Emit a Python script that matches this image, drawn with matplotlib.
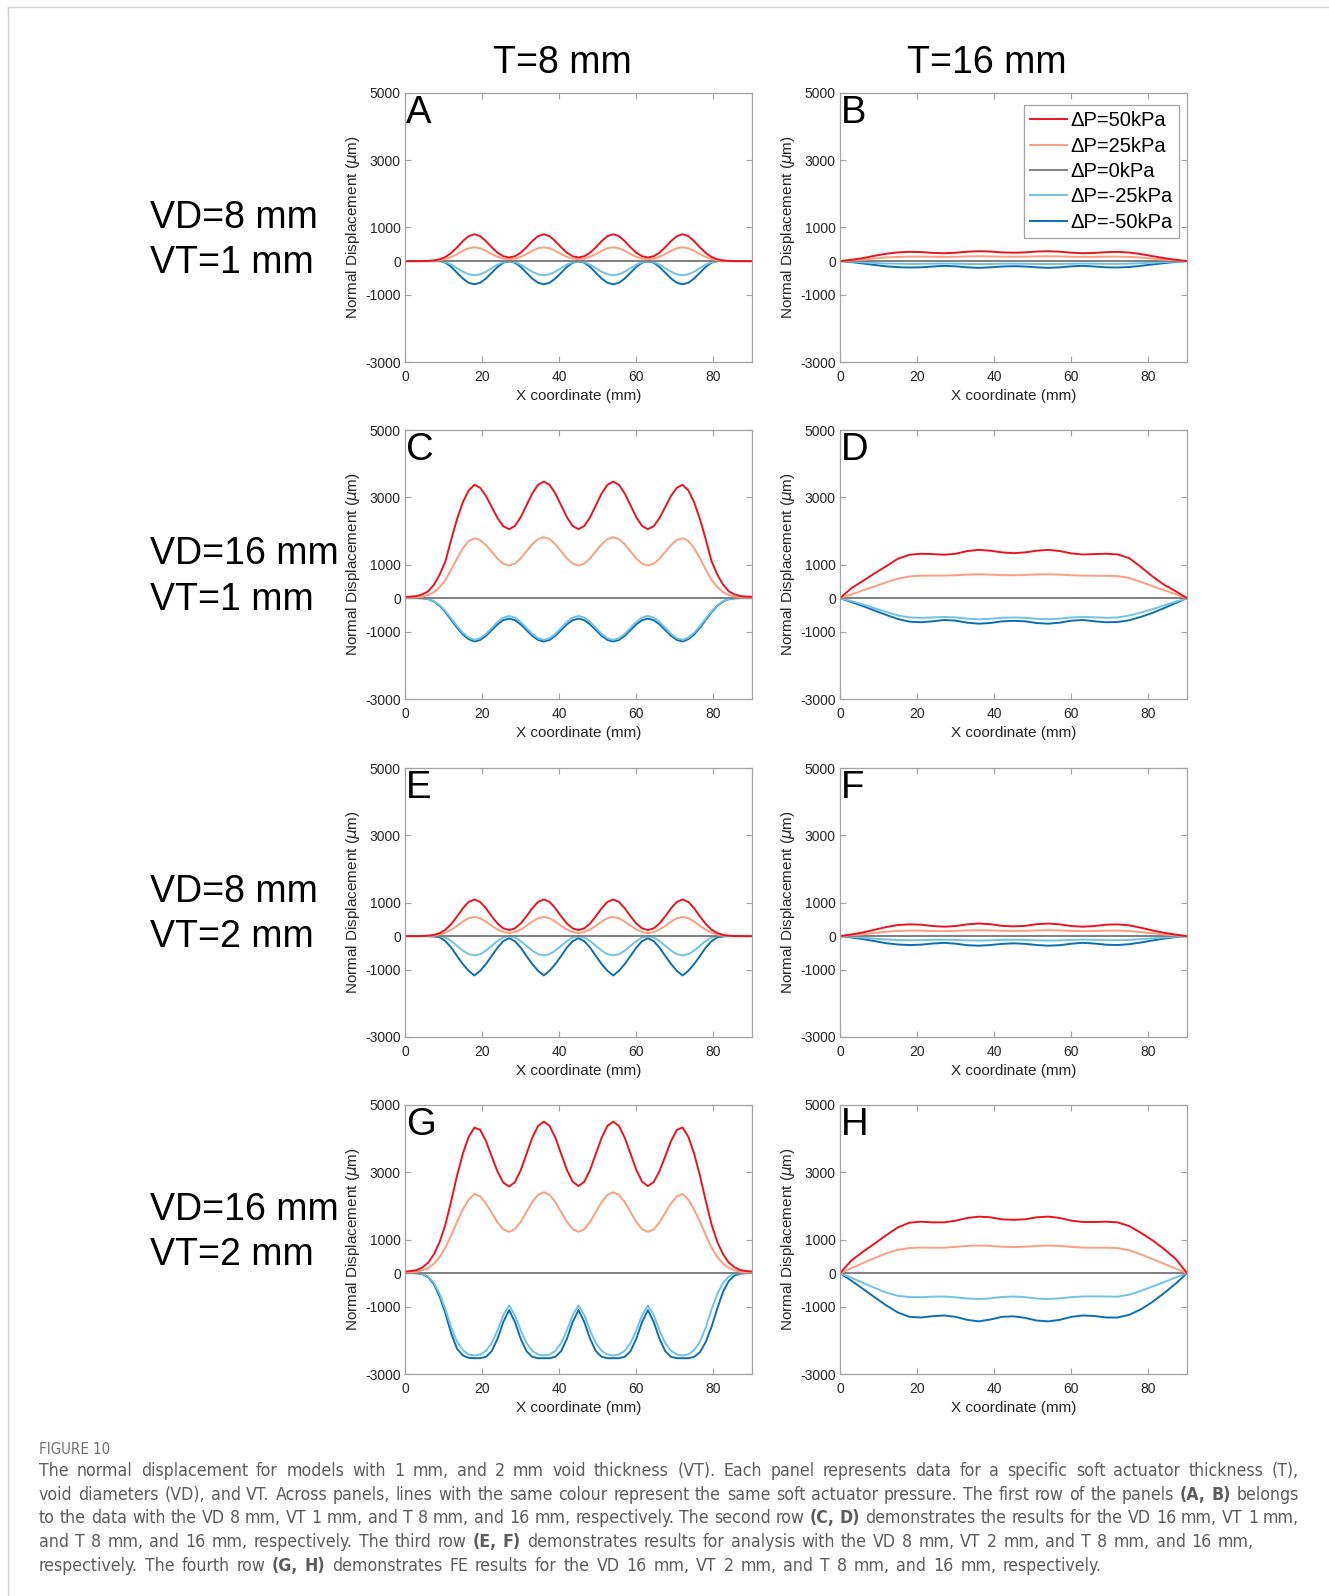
import numpy as np
import matplotlib
matplotlib.use("Agg")
import matplotlib.pyplot as plt
from matplotlib.lines import Line2D
from matplotlib import font_manager
from matplotlib.font_manager import FontProperties

plt.rcParams['font.family'] = ['Liberation Sans', 'DejaVu Sans']
plt.rcParams['axes.unicode_minus'] = False

# ---- data (displacement in um) ----
# T = 8 mm panels sampled every 1.5 mm
x_fine = [0, 1.5, 3, 4.5, 6, 7.5, 9, 10.5, 12, 13.5, 15, 16.5, 18, 19.5, 21, 22.5,
          24, 25.5, 27, 28.5, 30, 31.5, 33, 34.5, 36, 37.5, 39, 40.5, 42, 43.5, 45,
          46.5, 48, 49.5, 51, 52.5, 54, 55.5, 57, 58.5, 60, 61.5, 63, 64.5, 66, 67.5,
          69, 70.5, 72, 73.5, 75, 76.5, 78, 79.5, 81, 82.5, 84, 85.5, 87, 88.5, 90]
# T = 16 mm panels sampled every 3 mm
x_coarse = [0, 3, 6, 9, 12, 15, 18, 21, 24, 27, 30, 33, 36, 39, 42, 45, 48, 51, 54,
            57, 60, 63, 66, 69, 72, 75, 78, 81, 84, 87, 90]

# A: T=8, VD=8, VT=1
a_p50 = [0, 0, 0, 2, 7, 21, 55, 124, 243, 409, 594, 742, 800,
         742, 594, 411, 250, 145, 109, 145, 250, 411, 594, 742, 800,
         742, 594, 411, 250, 145, 109, 145, 250, 411, 594, 742, 800,
         742, 594, 411, 250, 145, 109, 145, 250, 411, 594, 742, 800,
         742, 594, 409, 243, 124, 55, 21, 7, 2, 0, 0, 0]
a_p25 = [0, 0, 0, 1, 4, 11, 28, 64, 125, 211, 306, 382, 410,
         382, 306, 212, 129, 75, 58, 75, 129, 212, 306, 382, 410,
         382, 306, 212, 129, 75, 58, 75, 129, 212, 306, 382, 410,
         382, 306, 212, 129, 75, 58, 75, 129, 212, 306, 382, 410,
         382, 306, 211, 125, 64, 28, 11, 4, 1, 0, 0, 0]
a_m25 = [0, 0, 0, 0, 0, 0, 0, -28, -105, -210, -315, -392, -420,
         -392, -315, -210, -105, -28, -5, -28, -105, -210, -315, -392, -420,
         -392, -315, -210, -105, -28, -5, -28, -105, -210, -315, -392, -420,
         -392, -315, -210, -105, -28, -5, -28, -105, -210, -315, -392, -420,
         -392, -315, -210, -105, -28, 0, 0, 0, 0, 0, 0, 0]
a_m50 = [0, 0, 0, 0, 0, 0, 0, -46, -172, -345, -517, -644, -690,
         -644, -517, -345, -172, -46, -8, -46, -172, -345, -517, -644, -690,
         -644, -517, -345, -172, -46, -8, -46, -172, -345, -517, -644, -690,
         -644, -517, -345, -172, -46, -8, -46, -172, -345, -517, -644, -690,
         -644, -517, -345, -172, -46, 0, 0, 0, 0, 0, 0, 0]

# B: T=16, VD=8, VT=1
b_p50 = [0, 40, 90, 160, 220, 260, 275, 270, 245, 235, 250, 280, 295, 285, 260, 250,
         260, 285, 295, 280, 250, 235, 245, 265, 275, 255, 210, 150, 90, 40, 0]
b_p25 = [0, 20, 45, 80, 110, 125, 135, 135, 128, 125, 130, 140, 145, 140, 133, 130,
         133, 140, 145, 140, 130, 125, 128, 133, 135, 125, 105, 75, 45, 20, 0]
b_m25 = [0, -15, -35, -55, -70, -78, -82, -80, -75, -72, -76, -84, -88, -84, -78, -75,
         -78, -84, -88, -84, -76, -72, -75, -80, -82, -76, -62, -45, -28, -12, 0]
b_m50 = [0, -30, -70, -115, -155, -180, -190, -185, -160, -140, -155, -185, -200, -185,
         -160, -150, -160, -185, -200, -185, -155, -140, -160, -185, -190, -175, -140,
         -100, -60, -25, 0]

# C: T=8, VD=16, VT=1
c_p50 = [40, 45, 60, 110, 200, 400, 700, 1100, 1750, 2350, 2850, 3200, 3370,
         3282, 3040, 2710, 2380, 2138, 2050, 2145, 2404, 2758, 3111, 3370, 3465,
         3370, 3111, 2758, 2404, 2145, 2050, 2145, 2404, 2758, 3111, 3370, 3465,
         3370, 3111, 2758, 2404, 2145, 2050, 2138, 2380, 2710, 3040, 3282, 3370,
         3200, 2850, 2350, 1750, 1100, 700, 400, 200, 110, 60, 45, 40]
c_p25 = [15, 18, 25, 45, 90, 180, 330, 540, 850, 1180, 1480, 1700, 1782,
         1728, 1579, 1376, 1173, 1024, 970, 1026, 1180, 1391, 1602, 1756, 1812,
         1756, 1602, 1391, 1180, 1026, 970, 1026, 1180, 1391, 1602, 1756, 1812,
         1756, 1602, 1391, 1180, 1026, 970, 1024, 1173, 1376, 1579, 1728, 1782,
         1700, 1480, 1180, 850, 540, 330, 180, 90, 45, 25, 18, 15]
c_m25 = [0, 0, 0, -3, -25, -90, -210, -390, -610, -830, -1030, -1170, -1240,
         -1192, -1063, -885, -708, -578, -530, -578, -708, -885, -1063, -1192, -1240,
         -1192, -1063, -885, -708, -578, -530, -578, -708, -885, -1063, -1192, -1240,
         -1192, -1063, -885, -708, -578, -530, -578, -708, -885, -1063, -1192, -1240,
         -1170, -1030, -830, -610, -390, -210, -90, -25, -3, 0, 0, 0]
c_m50 = [0, 0, 0, -5, -30, -100, -230, -420, -650, -880, -1080, -1220, -1290,
         -1244, -1120, -950, -780, -655, -610, -655, -780, -950, -1120, -1244, -1290,
         -1244, -1120, -950, -780, -655, -610, -655, -780, -950, -1120, -1244, -1290,
         -1244, -1120, -950, -780, -655, -610, -655, -780, -950, -1120, -1244, -1290,
         -1220, -1080, -880, -650, -420, -230, -100, -30, -5, 0, 0, 0]

# D: T=16, VD=16, VT=1
d_p50 = [0, 300, 515, 740, 950, 1170, 1290, 1320, 1310, 1290, 1320, 1400, 1435, 1410,
         1360, 1337, 1360, 1410, 1435, 1400, 1330, 1297, 1310, 1320, 1300, 1190, 930,
         650, 400, 210, 0]
d_p25 = [0, 110, 230, 350, 470, 580, 645, 668, 670, 670, 680, 700, 710, 700, 685, 680,
         690, 705, 710, 700, 680, 670, 665, 665, 655, 600, 480, 360, 240, 120, 0]
d_m25 = [0, -90, -190, -300, -410, -515, -575, -588, -575, -560, -575, -610, -630, -615,
         -585, -575, -585, -615, -630, -610, -575, -560, -570, -585, -575, -520, -430,
         -330, -220, -110, 0]
d_m50 = [0, -120, -240, -370, -500, -620, -700, -718, -690, -650, -670, -730, -760, -740,
         -690, -675, -690, -740, -760, -730, -670, -650, -690, -718, -710, -660, -560,
         -440, -300, -150, 0]

# E: T=8, VD=8, VT=2
e_p50 = [0, 0, 1, 4, 13, 37, 90, 194, 361, 585, 827, 1017, 1090,
         1017, 827, 589, 374, 231, 180, 231, 374, 589, 827, 1017, 1090,
         1017, 827, 589, 374, 231, 180, 231, 374, 589, 827, 1017, 1090,
         1017, 827, 589, 374, 231, 180, 231, 374, 589, 827, 1017, 1090,
         1017, 827, 585, 361, 194, 90, 37, 13, 4, 1, 0, 0]
e_p25 = [0, 0, 1, 2, 7, 19, 47, 101, 189, 306, 433, 532, 570,
         532, 433, 308, 196, 121, 90, 121, 196, 308, 433, 532, 570,
         532, 433, 308, 196, 121, 90, 121, 196, 308, 433, 532, 570,
         532, 433, 308, 196, 121, 90, 121, 196, 308, 433, 532, 570,
         532, 433, 306, 189, 101, 47, 19, 7, 2, 1, 0, 0]
e_m25 = [0, 0, 0, 0, 0, 0, -2, -38, -144, -288, -431, -536, -575,
         -536, -431, -288, -144, -38, -8, -38, -144, -288, -431, -536, -575,
         -536, -431, -288, -144, -38, -8, -38, -144, -288, -431, -536, -575,
         -536, -431, -288, -144, -38, -8, -38, -144, -288, -431, -536, -575,
         -536, -431, -288, -144, -38, -2, 0, 0, 0, 0, 0, 0]
e_m50 = [0, 0, 0, 0, 0, -10, -35, -150, -340, -590, -830, -1030, -1170,
         -1030, -830, -590, -340, -150, -60, -150, -340, -590, -830, -1030, -1170,
         -1030, -830, -590, -340, -150, -60, -150, -340, -590, -830, -1030, -1170,
         -1030, -830, -590, -340, -150, -60, -150, -340, -590, -830, -1030, -1170,
         -1030, -830, -590, -340, -150, -35, -10, 0, 0, 0, 0, 0]

# F: T=16, VD=8, VT=2
f_p50 = [0, 50, 110, 190, 270, 330, 350, 340, 300, 280, 300, 350, 375, 355, 305, 290,
         305, 355, 375, 350, 300, 280, 300, 340, 350, 320, 250, 170, 100, 45, 0]
f_p25 = [0, 25, 55, 95, 130, 155, 165, 162, 152, 148, 155, 170, 178, 170, 158, 155,
         158, 170, 178, 170, 155, 148, 152, 162, 165, 150, 120, 85, 50, 22, 0]
f_m25 = [0, -20, -45, -75, -100, -115, -122, -120, -110, -105, -112, -125, -132, -125,
         -112, -108, -112, -125, -132, -125, -112, -105, -110, -120, -122, -112, -90,
         -65, -40, -18, 0]
f_m50 = [0, -40, -90, -150, -210, -250, -265, -255, -220, -200, -225, -270, -285, -265,
         -230, -215, -230, -265, -285, -270, -225, -200, -220, -255, -265, -240, -190,
         -130, -75, -30, 0]

# G: T=8, VD=16, VT=2
g_p50 = [50, 60, 90, 170, 310, 560, 930, 1450, 2150, 2900, 3550, 4050, 4330,
         4260, 3930, 3465, 3020, 2693, 2574, 2703, 3057, 3540, 4022, 4376, 4505,
         4377, 4026, 3548, 3069, 2718, 2590, 2718, 3069, 3548, 4026, 4377, 4505,
         4377, 4026, 3548, 3069, 2718, 2590, 2708, 3032, 3473, 3930, 4260, 4330,
         4050, 3550, 2900, 2150, 1450, 930, 560, 310, 170, 90, 60, 50]
g_p25 = [20, 25, 40, 80, 150, 280, 480, 760, 1130, 1530, 1890, 2180, 2356,
         2281, 2074, 1792, 1510, 1303, 1228, 1307, 1523, 1817, 2112, 2327, 2406,
         2327, 2112, 1817, 1523, 1307, 1228, 1307, 1523, 1817, 2112, 2327, 2406,
         2327, 2112, 1817, 1523, 1307, 1228, 1303, 1510, 1792, 2074, 2281, 2356,
         2180, 1890, 1530, 1130, 760, 480, 280, 150, 80, 40, 25, 20]
g_m25 = [0, 0, 0, -20, -100, -290, -620, -1080, -1620, -2040, -2290, -2420, -2450,
         -2420, -2310, -2080, -1700, -1250, -960, -1250, -1700, -2080, -2310, -2420, -2450,
         -2420, -2310, -2080, -1700, -1250, -960, -1250, -1700, -2080, -2310, -2420, -2450,
         -2420, -2310, -2080, -1700, -1250, -960, -1250, -1700, -2080, -2310, -2420, -2450,
         -2420, -2290, -2040, -1620, -1080, -620, -290, -100, -20, 0, 0, 0]
g_m50 = [0, 0, -5, -30, -120, -330, -700, -1200, -1800, -2250, -2450, -2520, -2530,
         -2530, -2490, -2320, -1950, -1450, -1100, -1450, -1950, -2320, -2490, -2530, -2530,
         -2530, -2490, -2320, -1950, -1450, -1100, -1450, -1950, -2320, -2490, -2530, -2530,
         -2530, -2490, -2320, -1950, -1450, -1100, -1450, -1950, -2320, -2490, -2530, -2530,
         -2530, -2490, -2350, -2050, -1600, -1050, -550, -230, -70, -15, 0, 0]

# H: T=16, VD=16, VT=2
h_p50 = [0, 380, 640, 880, 1130, 1360, 1500, 1530, 1510, 1510, 1560, 1640, 1680, 1660,
         1600, 1585, 1600, 1660, 1680, 1640, 1560, 1520, 1520, 1530, 1510, 1400, 1200,
         980, 720, 430, 0]
h_p25 = [0, 150, 300, 450, 590, 695, 745, 760, 755, 755, 780, 810, 820, 810, 785, 775,
         785, 810, 820, 810, 780, 760, 755, 755, 745, 680, 560, 420, 280, 140, 0]
h_m25 = [0, -140, -290, -440, -580, -675, -712, -715, -700, -695, -720, -755, -770, -750,
         -710, -695, -715, -755, -772, -750, -715, -695, -690, -695, -700, -640, -530,
         -400, -270, -130, 0]
h_m50 = [0, -230, -470, -720, -960, -1170, -1300, -1320, -1280, -1260, -1300, -1390,
         -1435, -1380, -1300, -1285, -1330, -1410, -1435, -1390, -1300, -1260, -1275,
         -1320, -1320, -1240, -1080, -860, -600, -320, 0]

# 0 kPa gives no displacement
zero_fine = [0] * len(x_fine)
zero_coarse = [0] * len(x_coarse)

labels = ['\u0394P=50kPa', '\u0394P=25kPa', '\u0394P=0kPa', '\u0394P=-25kPa', '\u0394P=-50kPa']
colors = ['#e8141f', '#fc9e80', '#808080', '#72c2e8', '#0b6fb6']

col_titles = ['T=8 mm', 'T=16 mm']
row_titles = [('VD=8 mm', 'VT=1 mm'), ('VD=16 mm', 'VT=1 mm'),
              ('VD=8 mm', 'VT=2 mm'), ('VD=16 mm', 'VT=2 mm')]

panels = [
    ('A', x_fine, [a_p50, a_p25, zero_fine, a_m25, a_m50]),
    ('B', x_coarse, [b_p50, b_p25, zero_coarse, b_m25, b_m50]),
    ('C', x_fine, [c_p50, c_p25, zero_fine, c_m25, c_m50]),
    ('D', x_coarse, [d_p50, d_p25, zero_coarse, d_m25, d_m50]),
    ('E', x_fine, [e_p50, e_p25, zero_fine, e_m25, e_m50]),
    ('F', x_coarse, [f_p50, f_p25, zero_coarse, f_m25, f_m50]),
    ('G', x_fine, [g_p50, g_p25, zero_fine, g_m25, g_m50]),
    ('H', x_coarse, [h_p50, h_p25, zero_coarse, h_m25, h_m50]),
]

caption_lines = [
    [("The normal displacement for models with 1 mm, and 2 mm void thickness (VT). Each panel "
      "represents data for a specific soft actuator thickness (T),", False)],
    [("void diameters (VD), and VT. Across panels, lines with the same colour represent the same "
      "soft actuator pressure. The first row of the panels", False), ("(A, B)", True), ("belongs", False)],
    [("to the data with the VD 8 mm, VT 1 mm, and T 8 mm, and 16 mm, respectively. The second row", False),
     ("(C, D)", True), ("demonstrates the results for the VD 16 mm, VT 1 mm,", False)],
    [("and T 8 mm, and 16 mm, respectively. The third row", False), ("(E, F)", True),
     ("demonstrates results for analysis with the VD 8 mm, VT 2 mm, and T 8 mm, and 16 mm,", False)],
    [("respectively. The fourth row", False), ("(G, H)", True),
     ("demonstrates FE results for the VD 16 mm, VT 2 mm, and T 8 mm, and 16 mm, respectively.", False)],
]
# line widths of the caption in the reference (px)
caption_widths = [1260, 1260, 1260, 1215, 1063]

# ---- figure ----
FW, FH = 1329, 1596
fig = plt.figure(figsize=(FW / 100, FH / 100), dpi=100)

# thin frame around the figure block
fig.add_artist(Line2D([7.5 / FW, 7.5 / FW], [0, 1 - 7 / FH], color='#cfcfcf', lw=1))
fig.add_artist(Line2D([7.5 / FW, 1], [1 - 7 / FH, 1 - 7 / FH], color='#cfcfcf', lw=1))

lefts = [405, 840]
tops = [93, 430, 768, 1105]
AW, AH = 347, 269
spine_col = '#a3a3a3'
tick_col = '#262626'

for i, (letter, x, series) in enumerate(panels):
    r, c = divmod(i, 2)
    ax = fig.add_axes([lefts[c] / FW, 1 - (tops[r] + AH) / FH, AW / FW, AH / FH])
    for k in reversed(range(5)):
        ax.plot(x, series[k], color=colors[k], lw=1.4, label=labels[k])
    ax.set_xlim(0, 90)
    ax.set_ylim(-3000, 5000)
    ax.set_xticks([0, 20, 40, 60, 80])
    ax.set_yticks([-3000, -1000, 0, 1000, 3000, 5000])
    ax.tick_params(direction='in', length=4, width=0.8, top=True, right=True,
                   color=spine_col, labelcolor=tick_col, labelsize=10)
    ax.tick_params(axis='x', pad=5.5)
    ax.tick_params(axis='y', pad=3)
    for s in ax.spines.values():
        s.set_color(spine_col)
        s.set_linewidth(0.9)
    ax.set_xlabel('X coordinate (mm)', fontsize=11, color=tick_col)
    ax.set_ylabel(r'Normal Displacement ($\mu$m)', fontsize=11, color=tick_col)
    ax.xaxis.set_label_coords(0.5, -0.099)
    ax.yaxis.set_label_coords(-0.125, 0.5)
    ax.text(0.003, 0.89, letter, transform=ax.transAxes, fontsize=27.5,
            ha='left', va='baseline', color='black')
    if letter == 'B':
        h, l = ax.get_legend_handles_labels()
        leg = ax.legend(h[::-1], l[::-1], loc='upper right', bbox_to_anchor=(0.977, 0.955),
                        borderaxespad=0, fontsize=14.5, handlelength=1.8, handletextpad=0.2,
                        labelspacing=0.32, borderpad=0.3, fancybox=False, framealpha=1)
        leg.get_frame().set_edgecolor(spine_col)
        leg.get_frame().set_linewidth(0.9)

# column and row titles
col_x = [562, 987]
for cx, t in zip(col_x, col_titles):
    fig.text(cx / FW, 1 - 63 / FH, t, ha='center', va='center', fontsize=27)
row_y = [(218, 263), (554, 600), (892, 937), (1210, 1255)]
for (y1, y2), (t1, t2) in zip(row_y, row_titles):
    fig.text(150 / FW, 1 - y1 / FH, t1, ha='left', va='center', fontsize=27)
    fig.text(150 / FW, 1 - y2 / FH, t2, ha='left', va='center', fontsize=27)

# ---- caption ----
# pick a condensed sans if one is installed, like the journal caption font
entries = font_manager.fontManager.ttflist
cap_family, cap_stretch = 'Roboto', 'normal'
for pref in ['Noto Sans', 'Liberation Sans Narrow', 'DejaVu Sans', '']:
    found = [f for f in entries
             if f.name.startswith(pref) and f.weight in (400, 'normal', 'regular')
             and f.style == 'normal'
             and (f.stretch in ('condensed', 'semi-condensed') or 'Narrow' in f.name
                  or 'Condensed' in f.name)]
    if found:
        cap_family, cap_stretch = found[0].name, found[0].stretch
        break


def cap_props(size, bold=False):
    return FontProperties(family=cap_family, stretch=cap_stretch, size=size,
                          weight='bold' if bold else 'normal')


renderer = fig.canvas.get_renderer()


def word_widths(segs, size):
    # width of every word of a caption line, with its weight
    out = []
    for text, bold in segs:
        for word in text.split(' '):
            t = fig.text(0, 0, word, fontproperties=cap_props(size, bold))
            out.append((word, bold, t.get_window_extent(renderer).width))
            t.remove()
    return out


a = fig.text(0, 0, 'x x', fontproperties=cap_props(12))
b = fig.text(0, 0, 'xx', fontproperties=cap_props(12))
space12 = a.get_window_extent(renderer).width - b.get_window_extent(renderer).width
a.remove()
b.remove()

fits = []
for segs, target in zip(caption_lines, caption_widths):
    ww = word_widths(segs, 12)
    natural = sum(w for _, _, w in ww) + space12 * (len(ww) - 1)
    fits.append(12 * target / natural)
cap_fs = min(fits)

cap_col = '#5c5c5c'
fig.text(39 / FW, 1 - 1450 / FH, 'FIGURE 10', fontproperties=cap_props(cap_fs * 0.85),
         color='#6e6e6e', ha='left', va='center')
cap_y = [1471, 1495, 1518, 1542, 1566]
for yy, segs, target in zip(cap_y, caption_lines, caption_widths):
    ww = word_widths(segs, cap_fs)
    gap = (target - sum(w for _, _, w in ww)) / (len(ww) - 1)
    xpos = 39.0
    for word, bold, w in ww:
        fig.text(xpos / FW, 1 - yy / FH, word, fontproperties=cap_props(cap_fs, bold),
                 color=cap_col, ha='left', va='center')
        xpos += w + gap

fig.savefig('out.png', dpi=100)
